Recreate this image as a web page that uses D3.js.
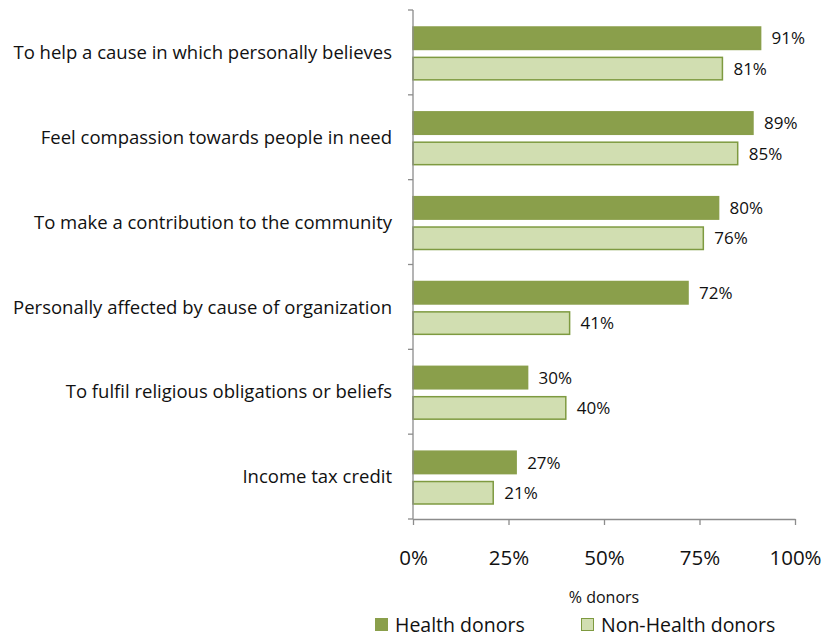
<!DOCTYPE html>
<html>
<head>
<meta charset="utf-8">
<script src="https://cdn.jsdelivr.net/npm/d3@7"></script>
<style>
  body { margin: 0; background: #fff; }
  text { font-family: "Open Sans", "Liberation Sans", sans-serif; fill: #111; }
</style>
</head>
<body>
<div id="chart"></div>
<script>
const reasons = [
    'To help a cause in which personally believes',
    'Feel compassion towards people in need',
    'To make a contribution to the community',
    'Personally affected by cause of organization',
    'To fulfil religious obligations or beliefs',
    'Income tax credit'
];
const healthDonors = [91, 89, 80, 72, 30, 27];
const nonHealthDonors = [81, 85, 76, 41, 40, 21];
const seriesNames = ['Health donors', 'Non-Health donors'];
const xTicks = [0, 25, 50, 75, 100];

const width = 823, height = 637;
const x0 = 413, x1 = 795, yTop = 10, yBottom = 519;

const svg = d3.select('#chart').append('svg')
    .attr('width', width)
    .attr('height', height);

const x = d3.scaleLinear().domain([0, 100]).range([x0, x1]);
const y = d3.scaleBand().domain(reasons).range([yTop, yBottom]);
const inner = d3.scaleBand().domain(seriesNames)
    .range([17, y.bandwidth() - 15]).paddingInner(0.26);

const fills = { 'Health donors': '#8a9f4b', 'Non-Health donors': '#d1deb1' };
const strokes = { 'Health donors': '#8a9f4b', 'Non-Health donors': '#7e9a40' };

const rows = reasons.map((r, i) => ({ reason: r, values: [
    { series: seriesNames[0], v: healthDonors[i] },
    { series: seriesNames[1], v: nonHealthDonors[i] }
]}));

const groups = svg.append('g').selectAll('g')
    .data(rows)
    .join('g')
    .attr('transform', d => `translate(0,${y(d.reason)})`);

groups.selectAll('rect')
    .data(d => d.values)
    .join('rect')
    .attr('x', x(0))
    .attr('y', d => inner(d.series))
    .attr('width', d => x(d.v) - x(0))
    .attr('height', inner.bandwidth())
    .attr('fill', d => fills[d.series])
    .attr('stroke', d => strokes[d.series])
    .attr('stroke-width', 1.5);

groups.selectAll('text.val')
    .data(d => d.values)
    .join('text')
    .attr('class', 'val')
    .attr('x', d => x(d.v) + 11)
    .attr('y', d => inner(d.series) + inner.bandwidth() / 2)
    .attr('dy', '0.36em')
    .style('font-size', '17px')
    .text(d => d.v + '%');

// category labels
svg.append('g').selectAll('text')
    .data(reasons)
    .join('text')
    .attr('x', 392)
    .attr('y', d => y(d) + y.bandwidth() / 2)
    .attr('dy', '0.36em')
    .attr('text-anchor', 'end')
    .style('font-size', '18.5px')
    .text(d => d);

// y axis line with ticks at band boundaries
const axisColor = '#8c8c8c';
svg.append('line')
    .attr('x1', x0).attr('x2', x0)
    .attr('y1', yTop).attr('y2', yBottom)
    .attr('stroke', axisColor).attr('stroke-width', 1.3);
svg.append('g').selectAll('line')
    .data(d3.range(reasons.length + 1))
    .join('line')
    .attr('x1', x0 - 5).attr('x2', x0)
    .attr('y1', i => yTop + i * y.step())
    .attr('y2', i => yTop + i * y.step())
    .attr('stroke', axisColor).attr('stroke-width', 1.3);

// x axis
const xAxis = svg.append('g')
    .attr('transform', `translate(0,${yBottom})`)
    .call(d3.axisBottom(x).tickValues(xTicks).tickSize(6).tickSizeOuter(0).tickPadding(25)
        .tickFormat(d => d + '%'));
xAxis.select('.domain').attr('stroke', axisColor).attr('stroke-width', 1.3);
xAxis.selectAll('.tick line').attr('stroke', axisColor).attr('stroke-width', 1.3);
xAxis.selectAll('.tick text')
    .style('font-size', '20.5px')
    .style('font-family', '"Open Sans", "Liberation Sans", sans-serif')
    .attr('fill', '#111');

svg.append('text')
    .attr('x', x(50))
    .attr('y', 597)
    .attr('dy', '0.36em')
    .attr('text-anchor', 'middle')
    .style('font-size', '16px')
    .text('% donors');

// legend
const legendX = [375, 581];
const legend = svg.append('g').selectAll('g')
    .data(seriesNames)
    .join('g')
    .attr('transform', (d, i) => `translate(${legendX[i]},618)`);
legend.append('rect')
    .attr('x', 0.5).attr('y', 0.5)
    .attr('width', 12).attr('height', 12)
    .attr('fill', d => fills[d])
    .attr('stroke', d => strokes[d]);
legend.append('text')
    .attr('x', 20)
    .attr('y', 7)
    .attr('dy', '0.36em')
    .style('font-size', '19.5px')
    .text(d => d);
</script>
</body>
</html>
